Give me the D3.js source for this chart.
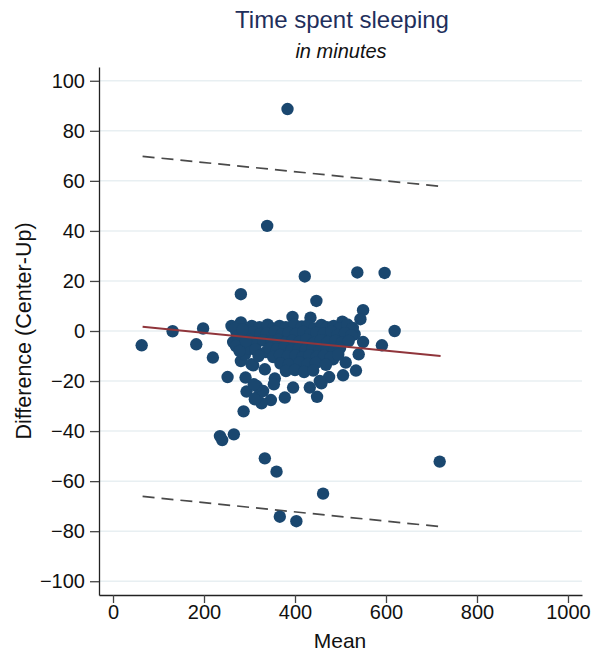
<!DOCTYPE html>
<html>
<head>
<meta charset="utf-8">
<script src="https://cdn.jsdelivr.net/npm/d3@7"></script>
<style>
  body { margin: 0; background: #fff; }
  text { font-family: "Liberation Sans", Arial, sans-serif; }
</style>
</head>
<body>
<script>
// data: [mean, difference]
var points = [
  // outliers / sparse points
  [383.5, 88.7], [338.8, 42], [421.5, 21.8], [537, 23.4], [597, 23.2],
  [235, -42], [240, -43.6], [265.6, -41.3], [333.7, -50.9], [359.4, -56.2],
  [718, -52.2], [461.7, -65], [366.6, -74.2], [403, -76],
  [63, -5.7], [131, -0.1], [183, -5.3], [198, 1], [219.5, -10.6],
  [251.8, -18.4], [281, 14.7], [287, -32.1],
  [447, 12], [394.5, 5.6], [434, 5.3], [504, 3.7], [549.6, 8.3], [543.8, 4.7],
  [619, 0], [591, -5.7], [549.6, -4.4], [540, -9.3], [534, -15.8], [531, -1.3],
  [511.5, -12.6], [505.6, -17.7], [475, -18.4], [458, -20.9], [448.5, -26.3],
  [432.5, -22.6], [395.8, -22.6], [377.6, -26.6], [347, -27.6], [326.5, -28.9],
  [315.6, -26.6], [293.5, -24.2], [291.3, -18.6], [308, -13.7], [333.7, -15.3],
  [355.6, -19], [353.5, -21.3], [281, -12], [287.6, -9.3], [264, -4.4],
  [260.5, 2], [281, 3.4], [297, 0], [328.6, -0.7], [336, -8.4], [421.5, -13.3],
  [395.8, -12], [454.4, -20], [483.6, -11.3], [330, -24], [315.6, -22],
  [304.5, -13.3], [309.5, -21.3], [311.7, -27.3], [290, -9.3],
  // dense band
  [305, 2], [322, 1.5], [340, 2.5], [352, 1], [366, 2], [380, 1.5], [398, 2.5],
  [415, 1.8], [428, 2.2], [442, 1], [458, 2.4], [470, 1.5], [485, 2], [498, 1],
  [515, 2.6], [527, 1.2],
  [272, -1], [290, -1.5], [308, -0.5], [324, -1.2], [338, -1], [356, -0.3],
  [371, -1.4], [386, -0.8], [402, -1.2], [418, -0.4], [433, -1.5], [447, -0.8],
  [463, -1.1], [480, -0.3], [494, -1.6], [510, -0.9], [524, -1.8],
  [276, -4], [298, -3.5], [316, -4.5], [331, -3.8], [348, -4.2], [363, -3.6],
  [379, -4.6], [394, -3.9], [410, -4.3], [425, -3.5], [441, -4.8], [457, -3.7],
  [472, -4.4], [489, -3.9], [503, -4.6], [518, -4],
  [296, -7], [313, -7.5], [344, -6.8], [360, -7.4], [376, -6.6], [392, -7.6],
  [408, -7], [424, -7.3], [438, -6.9], [454, -7.7], [470, -7], [487, -7.4], [499, -6.8],
  [320, -10], [352, -10.4], [367, -9.6], [384, -10.2], [401, -9.8], [416, -10.5],
  [432, -9.7], [448, -10.3], [464, -9.9], [478, -10.6], [495, -9.5],
  [368, -13], [386, -13.4], [410, -12.6], [428, -13.2], [446, -12.8], [468, -13.5],
  [380, -16], [400, -15.6], [420, -16.4], [440, -15.8],
  [268, 1], [275, -2], [285, 0.5], [270, -6], [278, -8], [292, -4]
];

// fitted line and limits of agreement, at mean = 65 and 720
var lineX = [65, 720];
var fitY = [1.7, -10];
var upperY = [69.8, 57.8];
var lowerY = [-66.1, -78.2];

var xTicks = [0, 200, 400, 600, 800, 1000];
var yTicks = [-100, -80, -60, -40, -20, 0, 20, 40, 60, 80, 100];

var width = 599, height = 656;
var plot = {left: 99, right: 582, top: 67, bottom: 595};

var svg = d3.select("body").append("svg")
    .attr("width", width)
    .attr("height", height);

svg.append("rect").attr("width", width).attr("height", height).attr("fill", "#fff");

var x = d3.scaleLinear().domain([-30.8, 1030.8]).range([plot.left, plot.right]);
var y = d3.scaleLinear().domain([-105.5, 105.5]).range([plot.bottom, plot.top]);

// grid
svg.append("g").selectAll("line")
    .data(yTicks)
  .enter().append("line")
    .attr("x1", plot.left + 1)
    .attr("x2", plot.right)
    .attr("y1", function(d) { return y(d); })
    .attr("y2", function(d) { return y(d); })
    .attr("stroke", "#e8eff2")
    .attr("stroke-width", 1.5);

// limits of agreement
function seg(vals) {
    return [[lineX[0], vals[0]], [lineX[1], vals[1]]];
}
var line = d3.line()
    .x(function(d) { return x(d[0]); })
    .y(function(d) { return y(d[1]); });

[upperY, lowerY].forEach(function(v) {
    svg.append("path")
        .attr("d", line(seg(v)))
        .attr("fill", "none")
        .attr("stroke", "#4a4a4a")
        .attr("stroke-width", 1.7)
        .attr("stroke-dasharray", "12,7");
});

// points
svg.append("g").selectAll("circle")
    .data(points)
  .enter().append("circle")
    .attr("cx", function(d) { return x(d[0]); })
    .attr("cy", function(d) { return y(d[1]); })
    .attr("r", 6.2)
    .attr("fill", "#1a476f");

// fitted line
svg.append("path")
    .attr("d", line(seg(fitY)))
    .attr("fill", "none")
    .attr("stroke", "#90353b")
    .attr("stroke-width", 2);

// axes
var fmt = d3.format("d");
var yAxis = d3.axisLeft(y).tickValues(yTicks).tickFormat(function(d) { return fmt(d).replace("-", "\u2212"); })
    .tickSize(9).tickSizeOuter(0).tickPadding(5);
var gy = svg.append("g")
    .attr("transform", "translate(" + plot.left + ",0)")
    .call(yAxis);

var xAxis = d3.axisBottom(x).tickValues(xTicks).tickFormat(fmt)
    .tickSize(8).tickSizeOuter(0).tickPadding(2);
var gx = svg.append("g")
    .attr("transform", "translate(0," + plot.bottom + ")")
    .call(xAxis);

[gx, gy].forEach(function(g) {
    g.selectAll("path").attr("stroke", "#222").attr("stroke-width", 1.3);
    g.selectAll("line").attr("stroke", "#444").attr("stroke-width", 1.3);
    g.selectAll("text")
        .attr("font-family", "Liberation Sans, Arial, sans-serif")
        .attr("font-size", 20)
        .attr("fill", "#111");
});

// titles
svg.append("text")
    .attr("x", 342).attr("y", 28)
    .attr("text-anchor", "middle")
    .attr("font-size", 24)
    .attr("fill", "#1f2f5c")
    .text("Time spent sleeping");

svg.append("text")
    .attr("x", 341).attr("y", 58)
    .attr("text-anchor", "middle")
    .attr("font-size", 20)
    .attr("font-style", "italic")
    .attr("fill", "#111")
    .text("in minutes");

svg.append("text")
    .attr("x", 340).attr("y", 648)
    .attr("text-anchor", "middle")
    .attr("font-size", 21)
    .attr("fill", "#111")
    .text("Mean");

svg.append("text")
    .attr("transform", "translate(31,331) rotate(-90)")
    .attr("text-anchor", "middle")
    .attr("font-size", 21.5)
    .attr("fill", "#111")
    .text("Difference (Center-Up)");
</script>
</body>
</html>
